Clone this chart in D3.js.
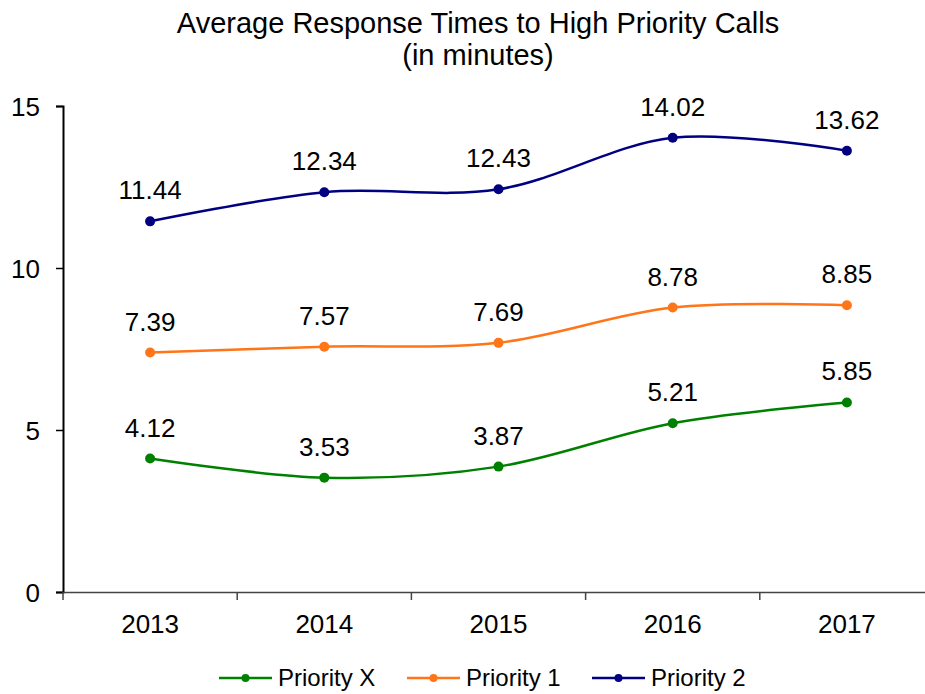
<!DOCTYPE html>
<html><head><meta charset="utf-8">
<script src="https://cdn.jsdelivr.net/npm/d3@7"></script>
<style>body{margin:0;background:#fff;} text{font-family:"Liberation Sans",Arial,sans-serif;fill:#000;}</style>
</head><body>
<svg id="c" width="925" height="694"></svg>
<script>
const years = ["2013","2014","2015","2016","2017"];
const priorityX = [4.12, 3.53, 3.87, 5.21, 5.85];
const priority1 = [7.39, 7.57, 7.69, 8.78, 8.85];
const priority2 = [11.44, 12.34, 12.43, 14.02, 13.62];
const seriesNames = ["Priority X", "Priority 1", "Priority 2"];
const seriesColors = ["#008000", "#ff7518", "#000080"];
const yTicks = [0, 5, 10, 15];
const titleLines = ["Average Response Times to High Priority Calls", "(in minutes)"];

const svg = d3.select("#c");
const x = d3.scaleBand().domain(years).range([63, 934]);
const y = d3.scaleLinear().domain([0, 15]).range([592, 106]);

svg.selectAll("text.title").data(titleLines).join("text")
  .attr("class","title").attr("x", 478).attr("y", (d,i)=>33+i*32)
  .attr("text-anchor","middle").style("font-size","29px").text(d=>d);

// axes
const yAxis = svg.append("g").attr("transform","translate(63,0)")
  .call(d3.axisLeft(y).tickValues(yTicks).tickSize(7).tickPadding(16));
yAxis.select(".domain").attr("stroke","#000").attr("stroke-width",2);
yAxis.selectAll(".tick line").attr("stroke","#000").attr("stroke-width",1.5);
yAxis.selectAll(".tick text").style("font-size","26px").attr("dy","0.35em").style("font-family","Liberation Sans, Arial, sans-serif");

const xAxis = svg.append("g").attr("transform","translate(0,592)")
  .call(d3.axisBottom(x).tickSize(0).tickPadding(0));
xAxis.select(".domain").attr("stroke","#444").attr("stroke-width",1.5);
xAxis.selectAll(".tick text").style("font-size","26px").attr("y", 41).attr("dy",0).style("font-family","Liberation Sans, Arial, sans-serif");
// boundary ticks
const bounds = years.map(d=>x(d));
xAxis.selectAll("line.bt").data(bounds).join("line").attr("class","bt")
  .attr("x1",d=>d).attr("x2",d=>d).attr("y1",0).attr("y2",8)
  .attr("stroke","#444").attr("stroke-width",1.5);

const allSeries = [priorityX, priority1, priority2];
const line = d3.line().x((d,i)=>x(years[i])+x.bandwidth()/2).y(d=>y(d))
  .curve(d3.curveCatmullRom.alpha(0));

allSeries.forEach((vals, si) => {
  const g = svg.append("g");
  g.append("path").datum(vals).attr("d", line).attr("fill","none")
    .attr("stroke", seriesColors[si]).attr("stroke-width", 2.5);
  g.selectAll("circle").data(vals).join("circle")
    .attr("cx",(d,i)=>x(years[i])+x.bandwidth()/2).attr("cy",d=>y(d)).attr("r",5)
    .attr("fill", seriesColors[si]);
  g.selectAll("text").data(vals).join("text")
    .attr("x",(d,i)=>x(years[i])+x.bandwidth()/2).attr("y",d=>y(d)-22)
    .attr("text-anchor","middle").style("font-size","26px").text(d=>d.toFixed(2));
});

// legend
const legendX = [219, 407, 592];
const lg = svg.append("g");
seriesNames.forEach((n, i) => {
  const lx = legendX[i];
  lg.append("line").attr("x1",lx).attr("x2",lx+53).attr("y1",678).attr("y2",678)
    .attr("stroke",seriesColors[i]).attr("stroke-width",2.5);
  lg.append("circle").attr("cx",lx+26.5).attr("cy",678).attr("r",4).attr("fill",seriesColors[i]);
  lg.append("text").attr("x",lx+59).attr("y",686).style("font-size","24px").text(n);
});
</script>
</body></html>
